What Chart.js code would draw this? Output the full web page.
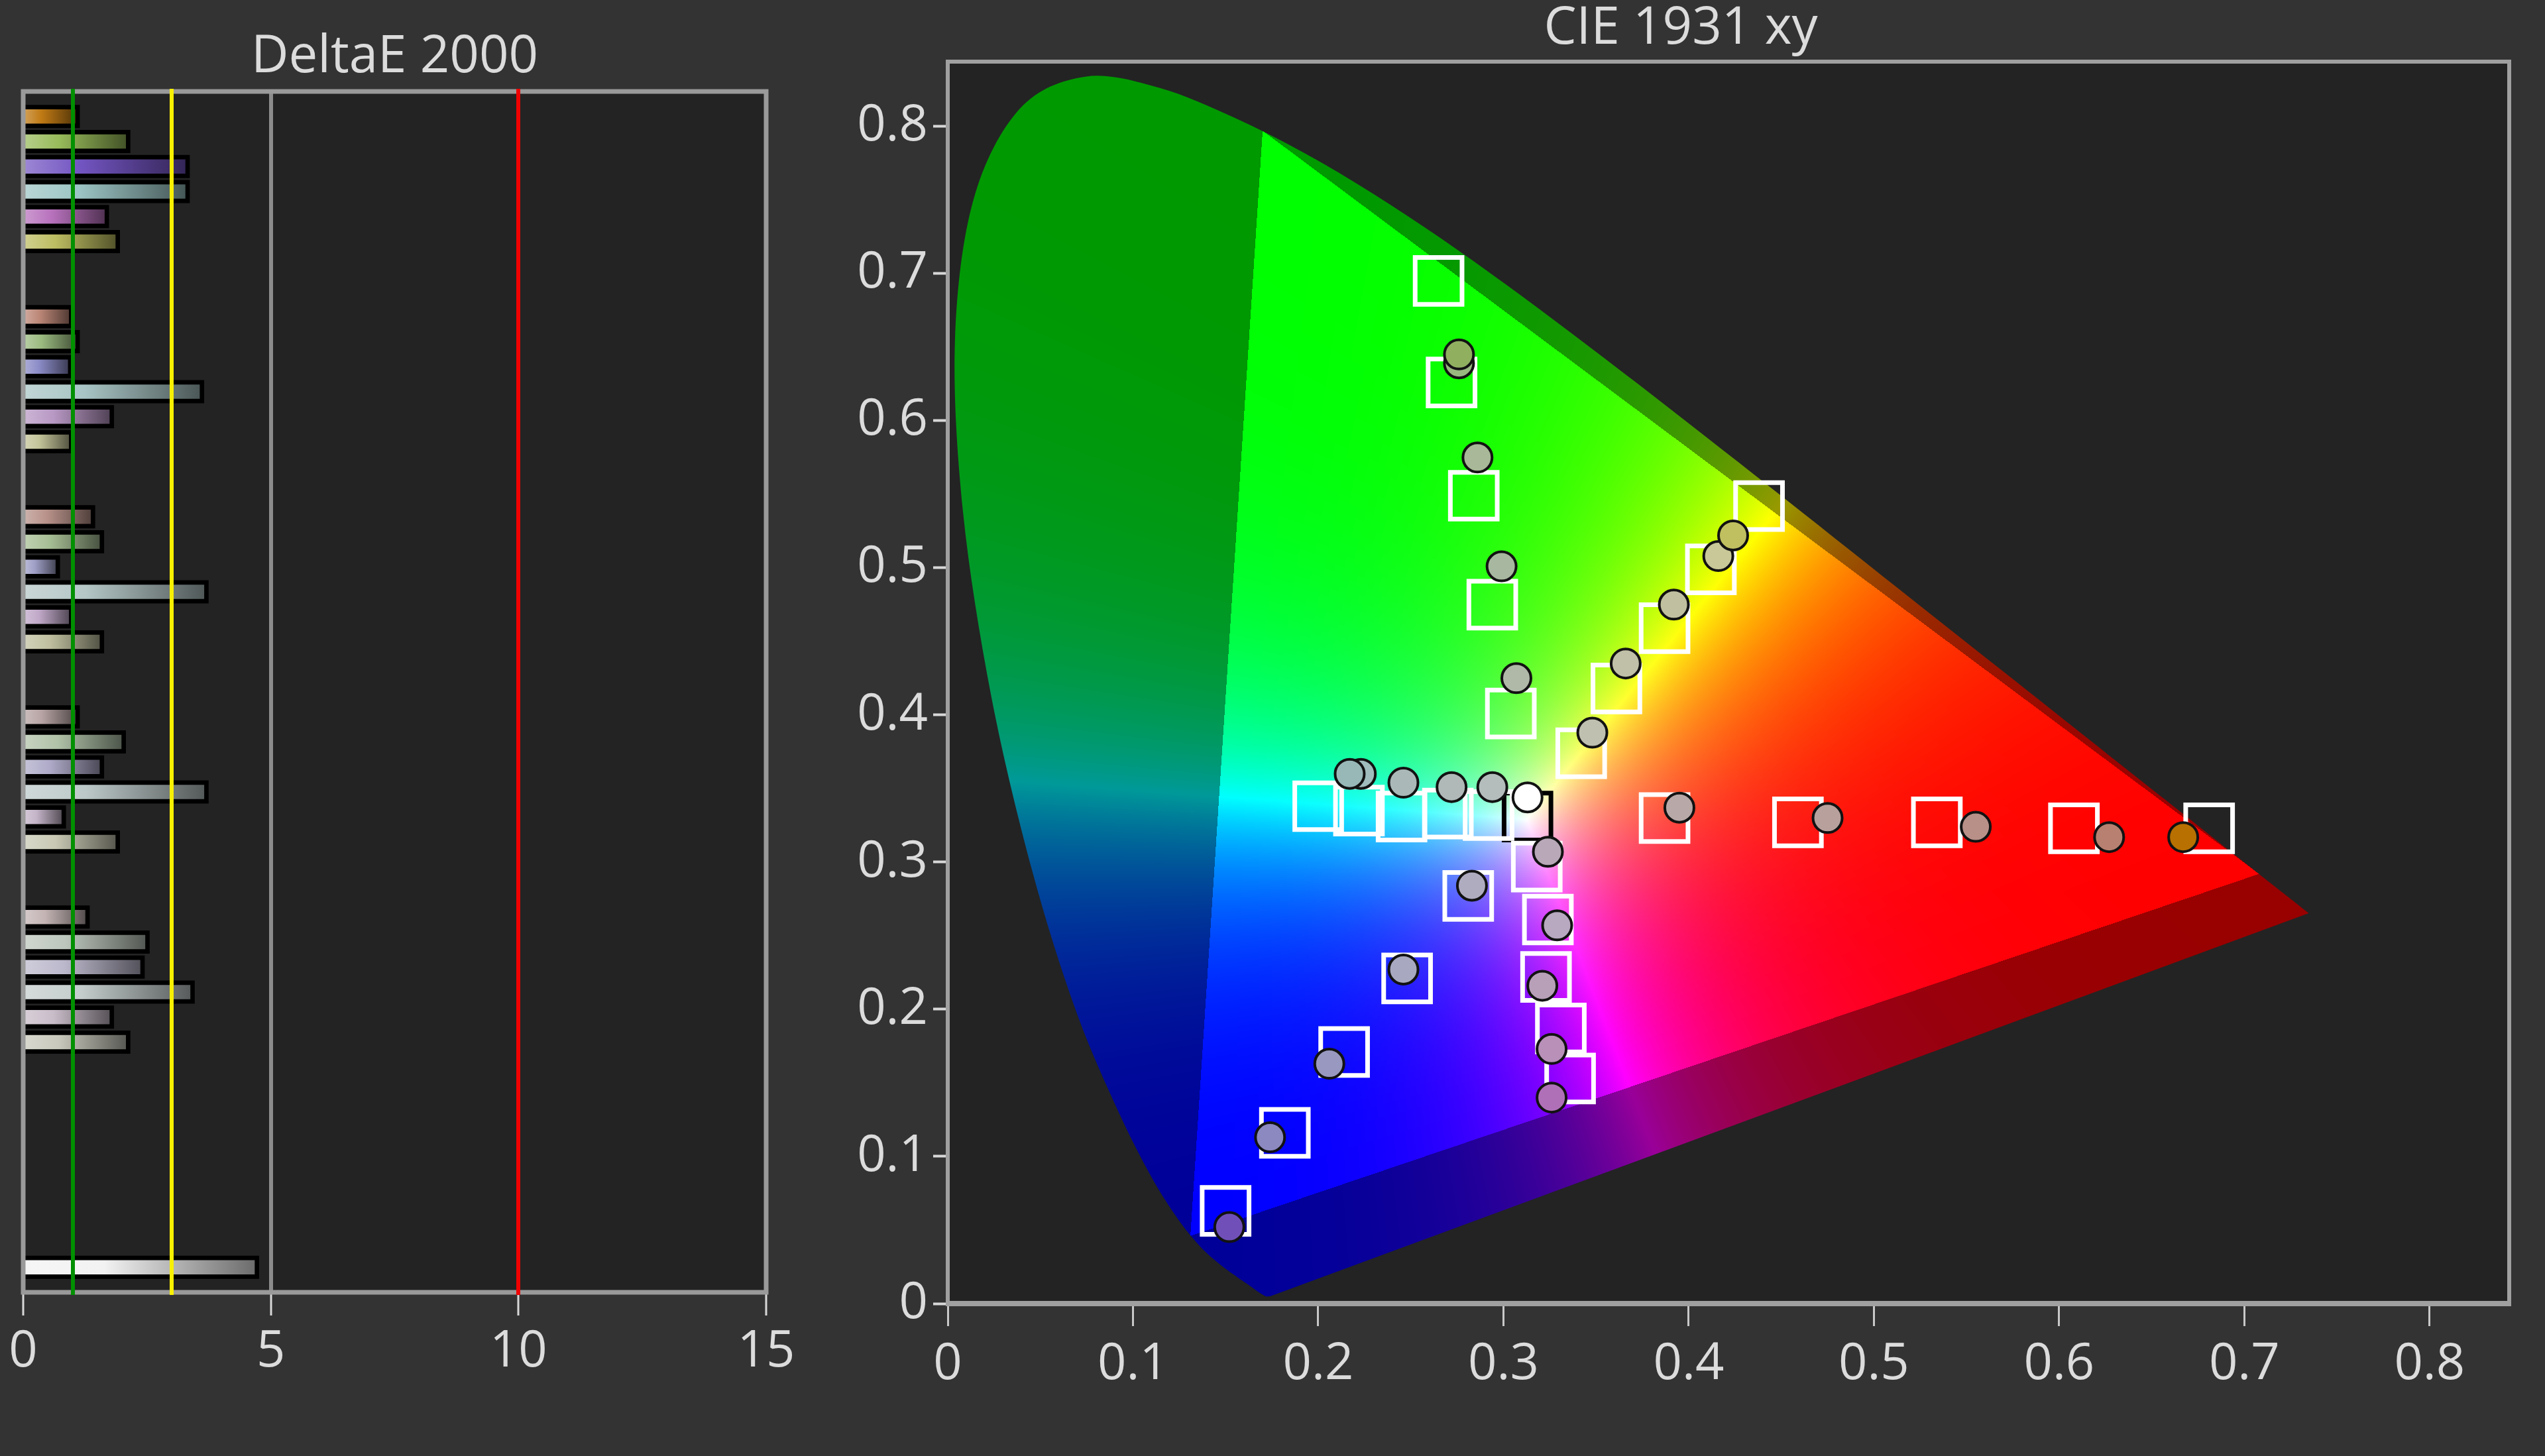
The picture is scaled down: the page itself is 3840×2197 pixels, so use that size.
<!DOCTYPE html>
<html>
<head>
<meta charset="utf-8">
<script src="https://cdn.jsdelivr.net/npm/chart.js@4.4.1/dist/chart.umd.min.js"></script>
<style>
html,body{margin:0;padding:0;background:#333333;width:3840px;height:2197px;overflow:hidden}
#cL{position:absolute;left:0;top:0}
#cR{position:absolute;left:1267px;top:0}
</style>
</head>
<body>
<canvas id="cL" width="1200" height="2197"></canvas>
<canvas id="cR" width="2576" height="2197"></canvas>
<script>
// ================= DeltaE 2000 data =================
const satLevels  = ['100%', '80%', '60%', '40%', '20%'];
const colorNames = ['Red', 'Green', 'Blue', 'Cyan', 'Magenta', 'Yellow'];
const dE_100 = [1.05, 2.07, 3.27, 3.27, 1.64, 1.86];
const dE_80  = [0.92, 1.05, 0.90, 3.56, 1.74, 0.92];
const dE_60  = [1.36, 1.54, 0.65, 3.65, 0.92, 1.54];
const dE_40  = [1.05, 1.98, 1.54, 3.65, 0.77, 1.86];
const dE_20  = [1.25, 2.46, 2.36, 3.37, 1.74, 2.07];
const dE_white = 4.67;
const deTicks  = [0, 5, 10, 15];
const deLimitValues = [1, 3, 10];
const deLimitColors = ['#009000', '#f8f000', '#f00000'];

const col_100 = ['#c07a14', '#98bb5a', '#7355c2', '#9cc4c4', '#b872bd', '#bdbd62'];
const col_80  = ['#bd8878', '#9bbb80', '#8c8cc8', '#a8c4c4', '#b898c4', '#c4c49a'];
const col_60  = ['#b8928a', '#a6be94', '#a0a0c8', '#b4c6c6', '#c0a8c8', '#c0c0a0'];
const col_40  = ['#b8a4a4', '#b0c2a8', '#aeaac8', '#bcc8c8', '#c4b4c8', '#c8c8b4'];
const col_20  = ['#c4b4b4', '#bcc6bc', '#bcb8cc', '#c4cccc', '#c8bcc8', '#c8c8bc'];
const col_white = '#f2f2f2';

// ================= CIE 1931 xy data =================
const cieTicks = [0, 0.1, 0.2, 0.3, 0.4, 0.5, 0.6, 0.7, 0.8];
// order: 20%, 40%, 60%, 80%, 100%
const tgtRed     = [[0.387,0.330],[0.459,0.327],[0.534,0.327],[0.608,0.323],[0.681,0.323]];
const tgtGreen   = [[0.304,0.401],[0.294,0.475],[0.284,0.549],[0.272,0.626],[0.265,0.695]];
const tgtBlue    = [[0.281,0.277],[0.248,0.221],[0.214,0.171],[0.182,0.116],[0.150,0.063]];
const tgtCyan    = [[0.292,0.332],[0.270,0.333],[0.245,0.331],[0.222,0.335],[0.200,0.338]];
const tgtMagenta = [[0.318,0.297],[0.324,0.261],[0.323,0.222],[0.331,0.187],[0.336,0.153]];
const tgtYellow  = [[0.342,0.374],[0.361,0.418],[0.387,0.459],[0.412,0.499],[0.438,0.542]];
const tgtWhite   = [[0.313,0.331]];

const measRed     = [[0.395,0.337],[0.475,0.330],[0.555,0.324],[0.627,0.317],[0.667,0.317]];
const measGreen   = [[0.307,0.425],[0.299,0.501],[0.286,0.575],[0.276,0.639],[0.276,0.645]];
const measBlue    = [[0.283,0.284],[0.246,0.227],[0.206,0.163],[0.174,0.113],[0.152,0.052]];
const measCyan    = [[0.294,0.351],[0.272,0.351],[0.246,0.354],[0.223,0.360],[0.217,0.360]];
const measMagenta = [[0.324,0.307],[0.329,0.257],[0.321,0.216],[0.326,0.173],[0.326,0.140]];
const measYellow  = [[0.348,0.388],[0.366,0.435],[0.392,0.475],[0.416,0.508],[0.424,0.522]];
const measWhite   = [[0.313,0.344]];

const measColRed     = ['#b8a8a8', '#b8a09c', '#b89088', '#b88070', '#b87000'];
const measColGreen   = ['#b0b8a8', '#a8b8a0', '#a8b898', '#98b880', '#90b060'];
const measColBlue    = ['#b0acc0', '#a8a8c0', '#9898c0', '#8c88c0', '#7050b8'];
const measColCyan    = ['#b4bcbc', '#b0b8b8', '#aab8b8', '#a0bcbc', '#98b8b8'];
const measColMagenta = ['#b8a8b8', '#b8a8c0', '#b8a0b8', '#b890b8', '#b070b8'];
const measColYellow  = ['#c0c0b0', '#c0c0a8', '#c0c0a0', '#c8c898', '#c0c060'];
const measColWhite   = ['#ffffff'];

// CIE 1931 2-degree spectral locus (380..700 nm)
const locusX = [0.1741,0.1740,0.1738,0.1736,0.1733,0.1730,0.1726,0.1721,0.1714,0.1703,0.1689,0.1669,0.1644,0.1611,0.1566,0.1510,0.1440,0.1355,0.1241,0.1096,0.0913,0.0687,0.0454,0.0235,0.0082,0.0039,0.0139,0.0389,0.0743,0.1142,0.1547,0.1929,0.2296,0.2658,0.3016,0.3373,0.3731,0.4087,0.4441,0.4788,0.5125,0.5448,0.5752,0.6029,0.6270,0.6482,0.6658,0.6801,0.6915,0.7006,0.7079,0.7140,0.7190,0.7230,0.7260,0.7283,0.7300,0.7311,0.7320,0.7334,0.7344,0.7347];
const locusY = [0.0050,0.0050,0.0049,0.0049,0.0048,0.0048,0.0048,0.0048,0.0051,0.0058,0.0069,0.0086,0.0109,0.0138,0.0177,0.0227,0.0297,0.0399,0.0578,0.0868,0.1327,0.2007,0.2950,0.4127,0.5384,0.6548,0.7502,0.8120,0.8338,0.8262,0.8059,0.7816,0.7543,0.7243,0.6923,0.6589,0.6245,0.5896,0.5547,0.5202,0.4866,0.4544,0.4242,0.3965,0.3725,0.3514,0.3340,0.3197,0.3083,0.2993,0.2920,0.2859,0.2809,0.2770,0.2740,0.2717,0.2700,0.2689,0.2680,0.2666,0.2656,0.2653];

// ================= helpers =================
Chart.defaults.font.family = "'Open Sans', 'Noto Sans', sans-serif";
Chart.defaults.color = '#dcdcdc';
Chart.defaults.animation = false;

const hexToRgb = h => { const n = parseInt(h.slice(1), 16); return [(n >> 16) & 255, (n >> 8) & 255, n & 255]; };
const mix = (c, t, a) => c.map((v, i) => Math.round(v + (t[i] - v) * a));
const rgbStr = c => `rgb(${c[0]},${c[1]},${c[2]})`;

// ================= build bar table =================
const groupsDE  = [dE_100, dE_80, dE_60, dE_40, dE_20];
const groupsCol = [col_100, col_80, col_60, col_40, col_20];
const barLabels = [], barValues = [], barColors = [];
const pushSlot = (lab, v, c) => { barLabels.push(lab); barValues.push(v); barColors.push(c); };
pushSlot('', null, null);
satLevels.forEach((s, g) => {
  colorNames.forEach((n, k) => pushSlot(n + ' ' + s, groupsDE[g][k], groupsCol[g][k]));
  pushSlot('', null, null); pushSlot('', null, null);
});
for (let i = 0; i < 6; i++) pushSlot('', null, null);
pushSlot('White', dE_white, col_white);
pushSlot('', null, null);

const plotBg = {
  id: 'plotBg',
  beforeDraw(chart) {
    const a = chart.chartArea, ctx = chart.ctx;
    ctx.save(); ctx.fillStyle = '#232323';
    ctx.fillRect(a.left, a.top, a.width, a.height);
    ctx.restore();
  }
};

const barShadow = {
  id: 'barShadow',
  beforeDatasetsDraw(chart) {
    const ctx = chart.ctx, meta = chart.getDatasetMeta(0);
    ctx.save(); ctx.fillStyle = '#000000';
    meta.data.forEach((el, i) => {
      if (barValues[i] == null) return;
      const p = el.getProps(['x', 'y', 'base', 'height'], true);
      if (!isFinite(p.x) || !isFinite(p.y)) return;
      ctx.fillRect(p.base, p.y - p.height / 2 - 7, p.x - p.base + 7, p.height + 14);
    });
    ctx.restore();
  }
};

const deFrame = {
  id: 'deFrame',
  afterDatasetsDraw(chart) {
    const a = chart.chartArea, ctx = chart.ctx, xs = chart.scales.x;
    ctx.save();
    ctx.strokeStyle = '#9a9a9a'; ctx.lineWidth = 7;
    ctx.strokeRect(a.left, a.top, a.width, a.height);
    deLimitValues.forEach((v, i) => {
      const px = Math.round(xs.getPixelForValue(v));
      ctx.strokeStyle = deLimitColors[i]; ctx.lineWidth = 6;
      ctx.beginPath(); ctx.moveTo(px, a.top - 4); ctx.lineTo(px, a.bottom + 4); ctx.stroke();
    });
    ctx.restore();
  }
};

new Chart(document.getElementById('cL'), {
  type: 'bar',
  data: {
    labels: barLabels,
    datasets: [{
      data: barValues,
      barThickness: 21,
      borderWidth: 0,
      backgroundColor: (c) => {
        const base = barColors[c.dataIndex];
        if (!base) return 'rgba(0,0,0,0)';
        const chart = c.chart, xs = chart.scales.x;
        if (!chart.chartArea || !xs) return base;
        const x0 = xs.getPixelForValue(0), x1 = xs.getPixelForValue(c.raw);
        if (!isFinite(x1) || x1 <= x0) return base;
        const rgb = hexToRgb(base);
        const g = chart.ctx.createLinearGradient(x0, 0, x1, 0);
        g.addColorStop(0, rgbStr(mix(rgb, [255, 255, 255], 0.3)));
        g.addColorStop(0.35, base);
        g.addColorStop(1, rgbStr(mix(rgb, [0, 0, 0], 0.55)));
        return g;
      }
    }]
  },
  options: {
    indexAxis: 'y',
    responsive: false,
    events: [],
    layout: { padding: { left: 35, right: 44, top: 0, bottom: 112 } },
    plugins: {
      legend: { display: false },
      tooltip: { enabled: false },
      title: { display: true, text: 'DeltaE 2000', color: '#dcdcdc',
               font: { size: 78, weight: 'normal', lineHeight: 1 },
               padding: { top: 48, bottom: 12 } }
    },
    scales: {
      y: { type: 'category', display: false, offset: false },
      x: {
        type: 'linear', min: 0, max: 15,
        afterBuildTicks: s => { s.ticks = deTicks.map(v => ({ value: v })); },
        afterFit: s => { s.height = 135; s.paddingLeft = 0; s.paddingRight = 0; },
        ticks: { font: { size: 76 }, color: '#dcdcdc', padding: 10, maxRotation: 0, autoSkip: false },
        grid: {
          color: c => (c.tick && c.tick.value === 5) ? '#8c8c8c' : 'rgba(0,0,0,0)',
          lineWidth: 6, drawTicks: true, tickLength: 35, tickColor: '#d8d8d8', tickWidth: 3
        },
        border: { display: false }
      }
    }
  },
  plugins: [plotBg, barShadow, deFrame]
});

// ================= CIE chart =================
const M2020 = [[1.7166512, -0.3556708, -0.2533663], [-0.6666844, 1.6164812, 0.0157685], [0.0176399, -0.0427706, 0.9421031]];
const GAMMA = 2.2;
function buildCie(chart) {
  const a = chart.chartArea, xs = chart.scales.x, ys = chart.scales.y;
  const L = Math.floor(a.left), T = Math.floor(a.top);
  const W = Math.ceil(a.right) - L, H = Math.ceil(a.bottom) - T;
  const off = document.createElement('canvas'); off.width = W; off.height = H;
  const octx = off.getContext('2d');
  const img = octx.createImageData(W, H), d = img.data;
  const xv = new Float64Array(W), yv = new Float64Array(H);
  for (let i = 0; i < W; i++) xv[i] = xs.getValueForPixel(L + i + 0.5);
  for (let j = 0; j < H; j++) yv[j] = ys.getValueForPixel(T + j + 0.5);
  const m = M2020;
  for (let j = 0; j < H; j++) {
    const y = yv[j];
    if (y <= 0.0005 || y > 0.85) continue;
    for (let i = 0; i < W; i++) {
      const x = xv[i];
      if (x < 0 || x > 0.75) continue;
      const X = x / y, Z = (1 - x - y) / y;
      let r = m[0][0] * X + m[0][1] + m[0][2] * Z;
      let g = m[1][0] * X + m[1][1] + m[1][2] * Z;
      let b = m[2][0] * X + m[2][1] + m[2][2] * Z;
      let out = false;
      if (r < 0) { r = 0; out = true; }
      if (g < 0) { g = 0; out = true; }
      if (b < 0) { b = 0; out = true; }
      const mx = Math.max(r, g, b);
      if (mx <= 0) continue;
      const k = out ? 0.6 * 255 : 255;
      const p = (j * W + i) * 4;
      d[p] = Math.pow(r / mx, GAMMA) * k;
      d[p + 1] = Math.pow(g / mx, GAMMA) * k;
      d[p + 2] = Math.pow(b / mx, GAMMA) * k;
      d[p + 3] = 255;
    }
  }
  octx.putImageData(img, 0, 0);
  return { canvas: off, L, T };
}

const cieBg = {
  id: 'cieBg',
  beforeDatasetsDraw(chart) {
    const a = chart.chartArea, ctx = chart.ctx, xs = chart.scales.x, ys = chart.scales.y;
    if (!chart.$cie) chart.$cie = buildCie(chart);
    const pts = locusX.map((lx, i) => [xs.getPixelForValue(lx), ys.getPixelForValue(locusY[i])]);
    ctx.save();
    ctx.beginPath();
    ctx.moveTo(pts[0][0], pts[0][1]);
    const n = pts.length;
    for (let i = 0; i < n - 1; i++) {
      const p0 = pts[Math.max(i - 1, 0)], p1 = pts[i], p2 = pts[i + 1], p3 = pts[Math.min(i + 2, n - 1)];
      ctx.bezierCurveTo(
        p1[0] + (p2[0] - p0[0]) / 6, p1[1] + (p2[1] - p0[1]) / 6,
        p2[0] - (p3[0] - p1[0]) / 6, p2[1] - (p3[1] - p1[1]) / 6,
        p2[0], p2[1]);
    }
    ctx.closePath();
    ctx.clip();
    ctx.drawImage(chart.$cie.canvas, chart.$cie.L, chart.$cie.T);
    ctx.restore();
    ctx.save();
    ctx.strokeStyle = '#a0a0a0'; ctx.lineWidth = 6;
    ctx.strokeRect(a.left, a.top, a.width, a.height);
    ctx.lineWidth = 8;
    ctx.beginPath(); ctx.moveTo(a.left - 3, a.bottom); ctx.lineTo(a.right + 3, a.bottom); ctx.stroke();
    ctx.restore();
  }
};

const toPts = arr => arr.map(([x, y]) => ({ x, y }));
const cieSeries = [
  { name: 'Red', tgt: tgtRed, meas: measRed, col: measColRed },
  { name: 'Green', tgt: tgtGreen, meas: measGreen, col: measColGreen },
  { name: 'Blue', tgt: tgtBlue, meas: measBlue, col: measColBlue },
  { name: 'Cyan', tgt: tgtCyan, meas: measCyan, col: measColCyan },
  { name: 'Magenta', tgt: tgtMagenta, meas: measMagenta, col: measColMagenta },
  { name: 'Yellow', tgt: tgtYellow, meas: measYellow, col: measColYellow },
  { name: 'White', tgt: tgtWhite, meas: measWhite, col: measColWhite, tgtBorder: '#000000' }
];
const cieDatasets = [];
cieSeries.forEach(s => {
  cieDatasets.push({
    label: s.name + ' measured', data: toPts(s.meas), order: 1,
    pointStyle: 'circle', pointRadius: 22, pointBorderWidth: 4,
    pointBorderColor: '#121212', pointBackgroundColor: s.col, showLine: false
  });
});
cieSeries.forEach(s => {
  cieDatasets.push({
    label: s.name + ' target', data: toPts(s.tgt), order: 2,
    pointStyle: 'rect', pointRadius: 50, pointBorderWidth: 7,
    pointBorderColor: s.tgtBorder || '#ffffff', pointBackgroundColor: 'rgba(0,0,0,0)', showLine: false
  });
});

const tickFmt = v => v === 0 ? '0' : Number(v).toFixed(1);
new Chart(document.getElementById('cR'), {
  type: 'scatter',
  data: { datasets: cieDatasets },
  options: {
    responsive: false,
    events: [],
    layout: { padding: { left: 0, right: 38, top: 0, bottom: 93 } },
    plugins: {
      legend: { display: false },
      tooltip: { enabled: false },
      title: { display: true, text: 'CIE 1931 xy', color: '#dcdcdc',
               font: { size: 78, weight: 'normal', lineHeight: 1 },
               padding: { top: 5, bottom: 10 } }
    },
    scales: {
      x: {
        type: 'linear', min: 0, max: 0.843,
        afterBuildTicks: s => { s.ticks = cieTicks.map(v => ({ value: v })); },
        afterFit: s => { s.height = 137; s.paddingLeft = 0; s.paddingRight = 0; },
        ticks: { callback: tickFmt, font: { size: 76 }, color: '#dcdcdc', padding: 13, maxRotation: 0, autoSkip: false },
        grid: { drawOnChartArea: false, drawTicks: true, tickLength: 34, tickColor: '#c8c8c8', tickWidth: 3 },
        border: { display: false }
      },
      y: {
        type: 'linear', min: 0, max: 0.844,
        afterBuildTicks: s => { s.ticks = cieTicks.map(v => ({ value: v })); },
        afterFit: s => { s.width = 163; s.paddingTop = 0; s.paddingBottom = 0; },
        ticks: { callback: tickFmt, font: { size: 76 }, color: '#dcdcdc', padding: 8, autoSkip: false },
        grid: { drawOnChartArea: false, drawTicks: true, tickLength: 22, tickColor: '#d8d8d8', tickWidth: 4 },
        border: { display: false }
      }
    }
  },
  plugins: [plotBg, cieBg]
});
</script>
</body>
</html>
